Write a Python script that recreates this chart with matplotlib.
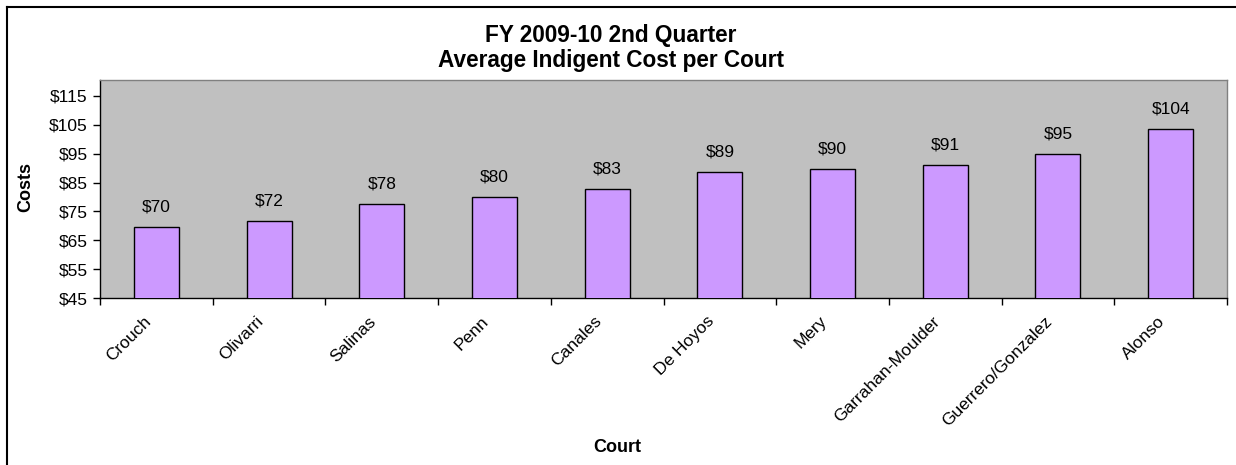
import matplotlib
matplotlib.use("Agg")
import matplotlib.pyplot as plt
from matplotlib.lines import Line2D
from matplotlib.transforms import ScaledTranslation
import numpy as np

plt.rcParams['font.family'] = ['Liberation Sans', 'DejaVu Sans']

courts = ["Crouch", "Olivarri", "Salinas", "Penn", "Canales", "De Hoyos",
          "Mery", "Garrahan-Moulder", "Guerrero/Gonzalez", "Alonso"]
costs = [69.7, 71.7, 77.7, 80.1, 82.8, 88.8, 89.7, 91.2, 94.9, 103.6]
yticks = [45, 55, 65, 75, 85, 95, 105, 115]

W, H = 1236, 465
fig = plt.figure(figsize=(W / 100, H / 100), dpi=100)
ax = fig.add_axes([100 / W, 1 - 298 / H, (1227 - 100) / W, (298 - 80) / H])

ax.set_facecolor('#C0C0C0')
x = np.arange(len(courts))
ax.bar(x, costs, width=0.4, color='#CC99FF', edgecolor='black',
       linewidth=1.0, zorder=3)
ax.set_xlim(-0.5, len(courts) - 0.5)
ax.set_ylim(45, 120.5)

for xi, v in zip(x, costs):
    ax.annotate(f"${v:.0f}", (xi, v), xytext=(0, 9), textcoords='offset points',
                ha='center', va='bottom', fontsize=12.5, color='black')

ax.set_yticks(yticks)
ax.set_yticklabels([f"${t}" for t in yticks], fontsize=12.5)
ax.set_xticks(x)
ax.set_xticklabels(courts, fontsize=12.5, rotation=45, ha='right',
                   rotation_mode='anchor', va='center')
ax.tick_params(axis='x', which='major', length=0, pad=15)
shift = ScaledTranslation(-8 / 100, 0, fig.dpi_scale_trans)
for lbl in ax.get_xticklabels():
    lbl.set_transform(lbl.get_transform() + shift)
ax.set_xticks(np.arange(len(courts) + 1) - 0.5, minor=True)
ax.tick_params(axis='x', which='minor', length=5, width=1, color='black', direction='out')
ax.tick_params(axis='y', length=5, width=1, color='black', direction='out', pad=4)

for s in ['top', 'right']:
    ax.spines[s].set_color('#808080')
    ax.spines[s].set_linewidth(1)
for s in ['left', 'bottom']:
    ax.spines[s].set_color('black')
    ax.spines[s].set_linewidth(1)

fig.text(611 / W, 1 - 35.5 / H, "FY 2009-10 2nd Quarter",
         ha='center', va='center', fontsize=16.3, fontweight='bold')
fig.text(611 / W, 1 - 61 / H, "Average Indigent Cost per Court",
         ha='center', va='center', fontsize=16.3, fontweight='bold')
fig.text(25.5 / W, 1 - 187.5 / H, "Costs", rotation=90, ha='center', va='center',
         fontsize=13, fontweight='bold')
fig.text(617 / W, 1 - 447 / H, "Court", ha='center', va='center',
         fontsize=13, fontweight='bold')

fig.add_artist(Line2D([7 / W, 7 / W], [0, 1 - 7 / H], transform=fig.transFigure,
                      color='black', linewidth=1.5))
fig.add_artist(Line2D([7 / W, 1], [1 - 7 / H, 1 - 7 / H], transform=fig.transFigure,
                      color='black', linewidth=1.5))

fig.savefig("out.png", dpi=100, facecolor='white')
